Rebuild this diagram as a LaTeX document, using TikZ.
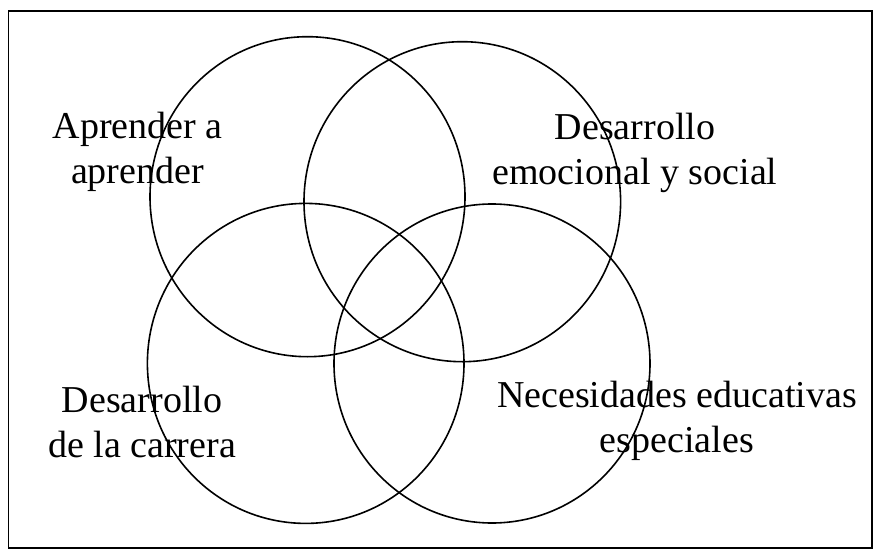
\documentclass[tikz,border=0pt]{standalone}
\usepackage{fontspec}
\setmainfont{Liberation Serif}
\usepackage{tikz}
\tikzstyle{venn} = [line width=1.6pt, draw=black]
\tikzstyle{venntext} = [align=center, inner sep=0pt, anchor=center, font=\fontsize{38}{45}\selectfont]

\begin{document}
\begin{tikzpicture}[ x = 1pt,
                     y = -1pt
                   ]

\useasboundingbox (0,0) rectangle (879,554);
\draw[line width=1.8pt] (8.5,11) rectangle (872,548);

% circles
\draw[venn] (307.5,196.7) ellipse (157.5 and 160);
\draw[venn] (462.3,201.7) ellipse (158.3 and 160);
\draw[venn] (305.7,363.4) ellipse (158.3 and 160);
\draw[venn] (492,363.5) ellipse (158 and 159.5);

% texts
\node[venntext] (aprender) at (137.5,151.6) {Aprender a\\ aprender};
\node[venntext] (emocional) at (635,153) {Desarrollo\\ emocional y social};
\node[venntext] (carrera) at (142,422) {Desarrollo\\ de la carrera};
\node[venntext] (especiales) at (677,420.6) {Necesidades educativas\\ especiales};

\end{tikzpicture}
\end{document}
